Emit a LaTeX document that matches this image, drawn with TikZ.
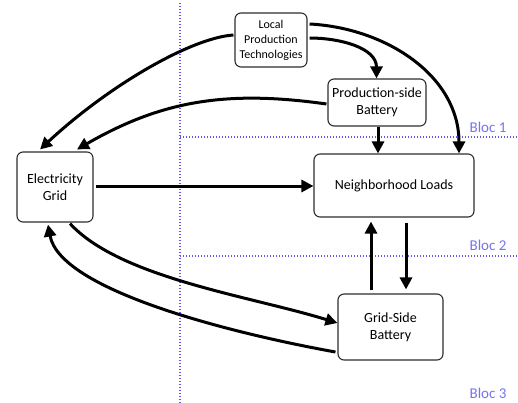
\documentclass[tikz,border=0pt]{standalone}
\usepackage{fontspec}
\setmainfont{Carlito}
\usetikzlibrary{arrows.meta}
\definecolor{blocblue}{RGB}{95,90,235}
\definecolor{boxgray}{RGB}{45,45,45}
\begin{document}
\begin{tikzpicture}[x=1pt,y=-1pt,
  box/.style={draw=boxgray,line width=1.1pt,rounded corners=6pt,align=center,inner sep=0pt,font=\fontsize{14}{17}\selectfont},
  flow/.style={line width=3pt,-{Triangle[length=12pt,width=12pt]}},
  sep/.style={blocblue,line width=1.3pt,dash pattern=on 1.3pt off 1.7pt},
  bloc/.style={text=blocblue!85!white,font=\fontsize{15}{18}\selectfont,anchor=east}]
\useasboundingbox (0,0) rectangle (518,403);
% separators
\draw[sep] (180,3) -- (180,403);
\draw[sep] (180,137) -- (518,137);
\draw[sep] (180,256) -- (518,256);
\node[bloc] (b1) at (510,127) {Bloc 1};
\node[bloc] (b2) at (510,245) {Bloc 2};
\node[bloc] (b3) at (510,393) {Bloc 3};
% boxes
\node[box,minimum width=72pt,minimum height=54pt,font=\fontsize{12}{15}\selectfont] (lpt) at (271,40) {Local\\Production\\Technologies};
\node[box,minimum width=98pt,minimum height=47pt] (psb) at (377,102.5) {Production-side\\Battery};
\node[box,minimum width=160pt,minimum height=63pt] (nl) at (394,185.5) {Neighborhood Loads};
\node[box,minimum width=76pt,minimum height=70pt] (grid) at (55,187) {Electricity\\Grid};
\node[box,minimum width=105pt,minimum height=66pt] (gsb) at (390.5,327) {Grid-Side\\Battery};
% connectors
\draw[flow] ([yshift=5pt,xshift=-1pt]lpt.west) .. controls (190,38) and (107,87) .. ([xshift=-15pt,yshift=2pt]grid.north);
\draw[flow] ([yshift=-1.5pt,xshift=-1pt]psb.west) to[out=172,in=30] ([xshift=22pt,yshift=2pt]grid.north);
\draw[flow] ([xshift=2pt,yshift=1pt]grid.east) -- ([yshift=1pt]grid.east -| nl.west);
\draw[flow] ([yshift=16pt,xshift=2pt]lpt.east) to[out=-3,in=90] ([xshift=65pt]nl.north);
\draw[flow] ([yshift=2pt,xshift=2pt]lpt.east) to[out=0,in=90] ([xshift=-0.5pt]psb.north);
\draw[flow] ([xshift=1pt]psb.south) -- ([xshift=1pt]psb.south |- nl.north);
\draw[flow,shorten <=3pt,shorten >=4pt] ([xshift=-19.5pt]gsb.north) -- ([xshift=-19.5pt]gsb.north |- nl.south);
\draw[flow,shorten <=5pt,shorten >=4pt] ([xshift=15.5pt]nl.south -| gsb.north) -- ([xshift=15.5pt]gsb.north);
\draw[flow] ([xshift=15pt,yshift=-1pt]grid.south) .. controls (120,278) and (250,296) .. ([yshift=4pt]gsb.west);
\draw[flow] ([xshift=-2pt,yshift=-25pt]gsb.west) .. controls (230,333) and (60,290) .. ([xshift=-7pt,yshift=-2pt]grid.south);
\end{tikzpicture}
\end{document}
